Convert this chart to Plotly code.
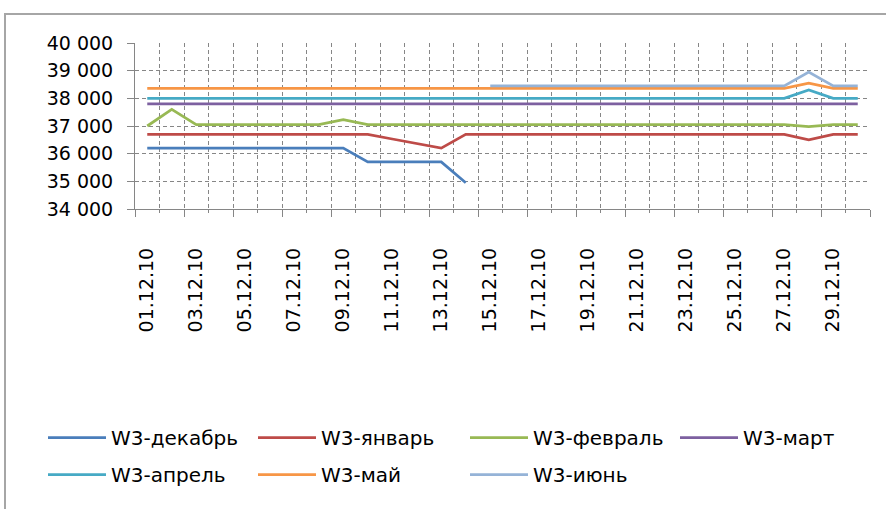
import plotly.graph_objects as go

dates = ["01.12.10", "02.12.10", "03.12.10", "04.12.10", "05.12.10", "06.12.10",
         "07.12.10", "08.12.10", "09.12.10", "10.12.10", "11.12.10", "12.12.10",
         "13.12.10", "14.12.10", "15.12.10", "16.12.10", "17.12.10", "18.12.10",
         "19.12.10", "20.12.10", "21.12.10", "22.12.10", "23.12.10", "24.12.10",
         "25.12.10", "26.12.10", "27.12.10", "28.12.10", "29.12.10", "30.12.10"]

w3_dec = [36200, 36200, 36200, 36200, 36200, 36200, 36200, 36200, 36200, 35700,
          35700, 35700, 35700, 34950, None, None, None, None, None, None,
          None, None, None, None, None, None, None, None, None, None]
w3_jan = [36700, 36700, 36700, 36700, 36700, 36700, 36700, 36700, 36700, 36700,
          36530, 36370, 36200, 36700, 36700, 36700, 36700, 36700, 36700, 36700,
          36700, 36700, 36700, 36700, 36700, 36700, 36700, 36500, 36700, 36700]
w3_feb = [37000, 37600, 37050, 37050, 37050, 37050, 37050, 37050, 37230, 37050,
          37050, 37050, 37050, 37050, 37050, 37050, 37050, 37050, 37050, 37050,
          37050, 37050, 37050, 37050, 37050, 37050, 37050, 36980, 37050, 37050]
w3_mar = [37800, 37800, 37800, 37800, 37800, 37800, 37800, 37800, 37800, 37800,
          37800, 37800, 37800, 37800, 37800, 37800, 37800, 37800, 37800, 37800,
          37800, 37800, 37800, 37800, 37800, 37800, 37800, 37800, 37800, 37800]
w3_apr = [38000, 38000, 38000, 38000, 38000, 38000, 38000, 38000, 38000, 38000,
          38000, 38000, 38000, 38000, 38000, 38000, 38000, 38000, 38000, 38000,
          38000, 38000, 38000, 38000, 38000, 38000, 38000, 38300, 38000, 38000]
w3_may = [38360, 38360, 38360, 38360, 38360, 38360, 38360, 38360, 38360, 38360,
          38360, 38360, 38360, 38360, 38360, 38360, 38360, 38360, 38360, 38360,
          38360, 38360, 38360, 38360, 38360, 38360, 38360, 38550, 38360, 38360]
w3_jun = [None, None, None, None, None, None, None, None, None, None,
          None, None, None, None, 38450, 38450, 38450, 38450, 38450, 38450,
          38450, 38450, 38450, 38450, 38450, 38450, 38450, 38950, 38450, 38450]

series_names = ["W3-декабрь", "W3-январь", "W3-февраль", "W3-март",
                "W3-апрель", "W3-май", "W3-июнь"]
series_values = [w3_dec, w3_jan, w3_feb, w3_mar, w3_apr, w3_may, w3_jun]
colors = ["#4A7EBB", "#BE4B48", "#98B954", "#7D60A0", "#46AAC5", "#F79646", "#95B3D7"]
# legend column of each series (4 columns, filled row by row)
legend_ids = ["legend", "legend2", "legend3", "legend4",
              "legend", "legend2", "legend3"]

FONT = "DejaVu Sans"
GRID = "#868686"

pos = [i + 1 for i in range(len(dates))]
n = len(dates)
boundaries = [i + 0.5 for i in range(n + 1)]
major_bounds = boundaries[::2]
label_pos = pos[::2]
label_text = dates[::2]

fig = go.Figure()
for name, vals, col, lg in zip(series_names, series_values, colors, legend_ids):
    fig.add_trace(go.Scatter(
        x=pos, y=vals, name=name, mode="lines",
        line=dict(color=col, width=2.75),
        connectgaps=False, legend=lg, legendgroup=name,
        xaxis="x", yaxis="y"))

# invisible helper trace so the label axis is rendered
fig.add_trace(go.Scatter(x=[pos[0]], y=[None], xaxis="x2", yaxis="y",
                         showlegend=False, hoverinfo="skip", mode="lines"))


def legend_col(px):
    return dict(
        orientation="v", xref="container", yref="container",
        x=px / 886, xanchor="left", y=1 - 418 / 509, yanchor="top",
        itemwidth=58, tracegroupgap=8, traceorder="grouped",
        font=dict(family=FONT, size=20, color="#000000"),
        bgcolor="rgba(0,0,0,0)",
    )


fig.update_layout(
    width=886, height=509,
    margin=dict(l=135, r=16, t=43, b=300, autoexpand=False),
    paper_bgcolor="white", plot_bgcolor="white",
    separators=", ",
    font=dict(family=FONT, color="#000000", size=18),
    xaxis=dict(
        range=[0.5, n + 0.5], automargin=False,
        tickmode="array", tickvals=major_bounds, showticklabels=False,
        ticks="outside", ticklen=7, tickcolor=GRID, tickwidth=1,
        showgrid=True, gridcolor=GRID, griddash="4px,3px", gridwidth=1,
        showline=True, linecolor=GRID, linewidth=1,
        zeroline=False,
        minor=dict(tickmode="array", tickvals=boundaries, showgrid=True,
                   gridcolor=GRID, griddash="4px,3px", gridwidth=1,
                   ticks="outside", ticklen=3, tickcolor=GRID),
    ),
    xaxis2=dict(
        range=[0.5, n + 0.5], overlaying="x", anchor="y", side="bottom",
        automargin=False,
        tickmode="array", tickvals=label_pos, ticktext=label_text,
        tickangle=-90, ticks="", showgrid=False, showline=False, zeroline=False,
        tickfont=dict(family=FONT, size=19, color="#000000"),
        ticklabelstandoff=34,
    ),
    yaxis=dict(
        range=[34000, 40000], dtick=1000, tick0=34000, automargin=False,
        tickformat=",d",
        ticks="outside", ticklen=7, tickcolor=GRID,
        showgrid=True, gridcolor=GRID, griddash="4px,3px", gridwidth=1,
        showline=True, linecolor=GRID, linewidth=1, zeroline=False,
        tickfont=dict(family=FONT, size=19, color="#000000"),
        ticklabelstandoff=10,
    ),
    legend=legend_col(43),
    legend2=legend_col(253),
    legend3=legend_col(465),
    legend4=legend_col(675),
    shapes=[dict(type="rect", xref="paper", yref="paper",
                 x0=(5 - 135) / 735, x1=(892 - 135) / 735,
                 y0=-(515 - 209) / 166, y1=1 + (43 - 14) / 166,
                 line=dict(color="#A6A6A6", width=2), fillcolor="rgba(0,0,0,0)",
                 layer="below")],
)

fig.write_html("out.html", config={"displayModeBar": False},
               post_script="document.body.style.margin='0';document.body.style.overflow='hidden';")
